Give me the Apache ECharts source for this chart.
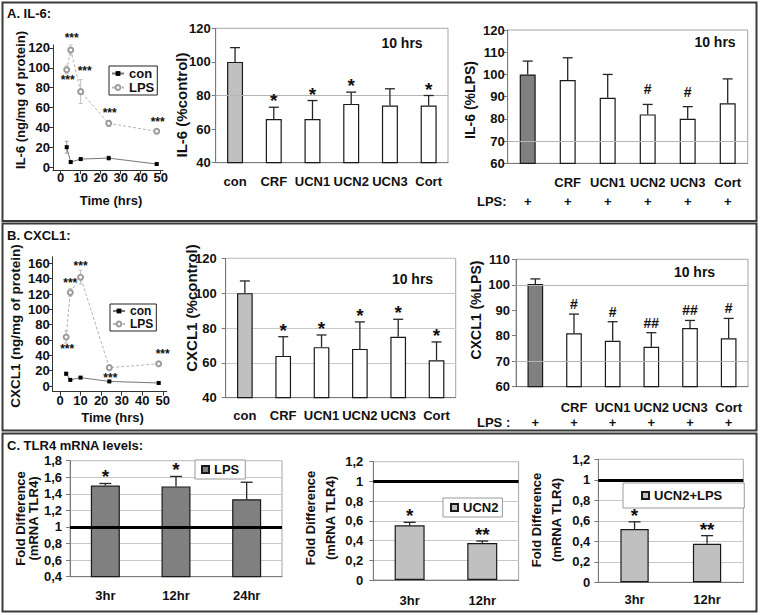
<!DOCTYPE html>
<html>
<head>
<meta charset="utf-8">
<title>IL-6, CXCL1 and TLR4 mRNA</title>
<script src="https://cdn.jsdelivr.net/npm/echarts@6.0.0/dist/echarts.min.js"></script>
<style>
  html, body { margin: 0; padding: 0; background: #fff; }
  #chart { width: 763px; height: 615px; }
</style>
</head>
<body>
<div id="chart"></div>
<script>
const FONT = '"Liberation Sans", Arial, Helvetica, sans-serif';
const INK = '#111';

// A. IL-6 time course (ng/mg of protein)
const il6Hours = [3, 5, 10, 24, 48];
const il6Con = [20, 5, 8, 9, 3];
const il6ConErr = [6, 1, 1, 2, 1];
const il6Lps = [98, 118, 76, 44, 36];
const il6LpsErr = [4, 5, 12, 3, 2];
const il6LpsSig = ['***', '***', '***', '***', '***'];

// A. IL-6 at 10 hrs
const ctrlCats = ['con', 'CRF', 'UCN1', 'UCN2', 'UCN3', 'Cort'];
const lpsCats = ['LPS', 'CRF', 'UCN1', 'UCN2', 'UCN3', 'Cort'];
const il6Ctrl = [100, 66, 66, 75, 74, 74];
const il6CtrlErr = [8.5, 7, 11, 7, 10, 6];
const il6CtrlSig = ['', '*', '*', '*', '', '*'];
const il6PctLps = [100, 97.5, 89.5, 82, 80, 87];
const il6PctLpsErr = [6, 10, 10.5, 4.5, 5.5, 11];
const il6PctLpsSig = ['', '', '', '#', '#', ''];

// B. CXCL1 time course
const cxHours = [3, 5, 10, 24, 48];
const cxCon = [16, 8, 11, 6, 4];
const cxConErr = [2, 1, 1, 1, 1];
const cxLps = [64, 122, 142, 24, 29];
const cxLpsErr = [8, 5, 9, 2, 2];
const cxLpsSig = ['***', '***', '***', '***', '***'];

// B. CXCL1 at 10 hrs
const cxCtrl = [100, 64, 69, 68, 75, 61.5];
const cxCtrlErr = [7, 11, 7, 15.5, 10, 10.5];
const cxCtrlSig = ['', '*', '*', '*', '*', '*'];
const cxPctLps = [100.3, 81, 78, 75.7, 83, 79];
const cxPctLpsErr = [2, 7.5, 7.5, 5.5, 3, 7.8];
const cxPctLpsSig = ['', '#', '#', '##', '##', '#'];

// C. TLR4 mRNA fold difference
const tlrLpsCats = ['3hr', '12hr', '24hr'];
const tlrLps = [1.5, 1.49, 1.335];
const tlrLpsErr = [0.025, 0.12, 0.205];
const tlrLpsSig = ['*', '*', ''];
const tlrCats = ['3hr', '12hr'];
const tlrUcn2 = [0.555, 0.375];
const tlrUcn2Err = [0.03, 0.02];
const tlrUcn2Sig = ['*', '**'];
const tlrUcn2Lps = [0.52, 0.375];
const tlrUcn2LpsErr = [0.07, 0.08];
const tlrUcn2LpsSig = ['*', '**'];

const grids = [], xAxes = [], yAxes = [], series = [], legends = [], graphics = [];

const bold = (size, extra) => Object.assign({ fontFamily: FONT, fontWeight: 'bold', fontSize: size, color: INK }, extra || {});
const comma = v => String(Math.round(v * 10) / 10).replace('.', ',');

function addGrid(r, framed) {
  grids.push({ left: r[0], top: r[1], width: r[2], height: r[3], show: framed,
    borderColor: '#a6a6a6', borderWidth: 1, backgroundColor: 'transparent',
    containLabel: false, outerBoundsMode: 'none' });
  return grids.length - 1;
}

function text(str, x, y, size, opt) {
  opt = opt || {};
  const align = opt.align || 'center';
  graphics.push({
    type: 'text', x: x, y: y, rotation: opt.rot ? Math.PI / 2 : 0, silent: true, z: 10,
    style: { text: str, fill: INK, font: 'bold ' + size + 'px ' + FONT,
      align: align, verticalAlign: 'middle', textAlign: align, textVerticalAlign: 'middle' }
  });
}

function box(x, y, w, h) {
  graphics.push({ type: 'rect', silent: true, z: 0, shape: { x: x, y: y, width: w, height: h },
    style: { fill: 'none', stroke: '#3a3a3a', lineWidth: 2 } });
}

// error bars going up from the bar top, with the significance mark above
function upBars(gi, values, errs, sig, o) {
  return {
    type: 'custom', xAxisIndex: gi, yAxisIndex: gi, z: 5, silent: true,
    encode: { x: 0, y: 1 },
    data: values.map((v, i) => [i, v, errs[i]]),
    renderItem(params, api) {
      const i = params.dataIndex;
      const b = api.coord([api.value(0), api.value(1)]);
      const t = api.coord([api.value(0), api.value(1) + api.value(2)]);
      const ls = { stroke: '#262626', lineWidth: 1.3 };
      const kids = [
        { type: 'line', shape: { x1: b[0], y1: b[1], x2: t[0], y2: t[1] }, style: ls },
        { type: 'line', shape: { x1: t[0] - o.cap, y1: t[1], x2: t[0] + o.cap, y2: t[1] }, style: ls }
      ];
      if (sig[i]) {
        const star = sig[i][0] === '*';
        const size = star ? 19 : 14;
        kids.push({ type: 'text', x: t[0], y: t[1] - (star ? o.starGap : o.hashGap),
          style: { text: sig[i], fill: INK, font: 'bold ' + size + 'px ' + FONT,
            align: 'center', verticalAlign: 'bottom', textAlign: 'center', textVerticalAlign: 'bottom' } });
      }
      return { type: 'group', children: kids };
    }
  };
}

// symmetric light error bars for the time courses
function rangeBars(gi, xs, values, errs, color) {
  return {
    type: 'custom', xAxisIndex: gi, yAxisIndex: gi, z: 3, silent: true,
    encode: { x: 0, y: 1 },
    data: values.map((v, i) => [xs[i], v, errs[i]]),
    renderItem(params, api) {
      const lo = api.coord([api.value(0), api.value(1) - api.value(2)]);
      const hi = api.coord([api.value(0), api.value(1) + api.value(2)]);
      const ls = { stroke: color, lineWidth: 1 };
      return { type: 'group', children: [
        { type: 'line', shape: { x1: lo[0], y1: lo[1], x2: hi[0], y2: hi[1] }, style: ls },
        { type: 'line', shape: { x1: hi[0] - 2, y1: hi[1], x2: hi[0] + 2, y2: hi[1] }, style: ls },
        { type: 'line', shape: { x1: lo[0] - 2, y1: lo[1], x2: lo[0] + 2, y2: lo[1] }, style: ls }
      ] };
    }
  };
}

function lineChart(c) {
  const gi = addGrid(c.rect, false);
  const axisColor = '#333';
  xAxes.push({
    gridIndex: gi, type: 'value', min: c.xMin, max: c.xMax,
    axisLine: { onZero: false, lineStyle: { color: axisColor } },
    axisTick: { show: true, customValues: c.xTicks, length: 4, lineStyle: { color: axisColor } },
    axisLabel: bold(13, { customValues: c.xTicks, margin: c.xMargin }),
    splitLine: { show: false }
  });
  yAxes.push({
    gridIndex: gi, type: 'value', min: c.yMin, max: c.yMax,
    axisLine: { show: true, onZero: false, lineStyle: { color: axisColor } },
    axisTick: { show: true, customValues: c.yTicks, length: 4, lineStyle: { color: axisColor } },
    axisLabel: bold(13, { customValues: c.yTicks, margin: 3 }),
    splitLine: { show: false }
  });
  series.push({
    name: 'con', type: 'line', xAxisIndex: gi, yAxisIndex: gi, z: 4,
    data: c.hours.map((h, i) => [h, c.con[i]]),
    symbol: 'rect', symbolSize: 4, itemStyle: { color: '#000' },
    lineStyle: { color: '#777', width: 1 }
  });
  series.push({
    name: 'LPS', type: 'line', xAxisIndex: gi, yAxisIndex: gi, z: 4,
    data: c.hours.map((h, i) => ({
      value: [h, c.lps[i]],
      label: { show: true, formatter: c.sig[i], position: c.sigPlace[i][0],
        distance: c.sigPlace[i][1], offset: c.sigPlace[i][2] }
    })),
    symbol: 'emptyCircle', symbolSize: 5, itemStyle: { color: '#9a9a9a', borderWidth: 1 },
    lineStyle: { color: '#b5b5b5', width: 1, type: [3, 2] },
    label: bold(12)
  });
  series.push(rangeBars(gi, c.hours, c.con, c.conErr, '#a0a0a0'));
  series.push(rangeBars(gi, c.hours, c.lps, c.lpsErr, '#c0c0c0'));
  legends.push(Object.assign({
    orient: 'vertical', data: ['con', 'LPS'], selectedMode: false,
    itemWidth: 12, itemHeight: 6, itemGap: 1,
    borderColor: '#222', borderWidth: 1, backgroundColor: '#fff'
  }, c.legend));
}

function barChart(c) {
  const gi = addGrid(c.rect, true);
  const axisColor = '#7a7a7a';
  xAxes.push({
    gridIndex: gi, type: 'category', data: c.cats,
    axisLine: { lineStyle: { color: axisColor } },
    axisTick: { length: 4, lineStyle: { color: axisColor } },
    axisLabel: bold(13, { interval: 0, margin: c.xMargin, lineHeight: c.xLine, formatter: c.xFmt })
  });
  yAxes.push({
    gridIndex: gi, type: 'value', min: c.min, max: c.max, interval: c.step,
    axisLine: { show: true, lineStyle: { color: axisColor } },
    axisTick: { show: true, length: 4, lineStyle: { color: axisColor } },
    axisLabel: bold(13, { margin: c.yMargin, formatter: c.yFmt }),
    splitLine: { show: !!c.split, lineStyle: { color: '#c8c8c8' } }
  });
  if (c.gridLines) {
    series.push({
      type: 'line', xAxisIndex: gi, yAxisIndex: gi, data: [], z: 1, silent: true,
      markLine: { symbol: 'none', silent: true, label: { show: false },
        lineStyle: { color: '#b4b4b4', width: 1, type: 'solid' },
        data: c.gridLines.map(v => ({ yAxis: v })) }
    });
  }
  const bar = {
    name: c.name, type: 'bar', xAxisIndex: gi, yAxisIndex: gi, barWidth: c.barWidth, z: 2,
    data: c.values.map((v, i) => ({ value: v, itemStyle: { color: i === 0 && c.firstColor ? c.firstColor : c.color } })),
    itemStyle: { color: c.color, borderColor: '#1a1a1a', borderWidth: 1.2 }
  };
  if (c.unity) {
    bar.markLine = { symbol: 'none', silent: true, label: { show: false },
      lineStyle: { color: '#000', width: 3, type: 'solid' }, data: [{ yAxis: 1 }] };
  }
  series.push(bar);
  series.push(upBars(gi, c.values, c.errs, c.sig, c.err));
  if (c.legend) {
    legends.push(Object.assign({
      data: [c.name], selectedMode: false, icon: 'rect', itemWidth: 7, itemHeight: 7,
      borderColor: '#9a9a9a', borderWidth: 1, backgroundColor: '#fff',
      textStyle: bold(13)
    }, c.legend));
  }
}

const lpsRow = (v, i) => (i === 0 ? ' ' : v) + '\n+';

// ---------- panel A ----------
lineChart({
  rect: [53, 45, 110, 125], xMin: -3.85, xMax: 51.15, yMin: -3, yMax: 123,
  xTicks: [0, 10, 20, 30, 40, 50], yTicks: [0, 20, 40, 60, 80, 100, 120], xMargin: 1,
  hours: il6Hours, con: il6Con, conErr: il6ConErr, lps: il6Lps, lpsErr: il6LpsErr, sig: il6LpsSig,
  sigPlace: [['bottom', 1, [1, 0]], ['top', 2, [1, 0]], ['top', 11, [4, 0]], ['top', 1, [1, 0]], ['top', 0, [1, 0]]],
  legend: { left: 109, top: 66, padding: [1, 3, 1, 2], textStyle: bold(13, { lineHeight: 12 }) }
});
barChart({
  name: 'IL-6 %control', rect: [215.7, 28.3, 232.3, 134.4], cats: ctrlCats,
  values: il6Ctrl, errs: il6CtrlErr, sig: il6CtrlSig,
  min: 40, max: 120, step: 20, barWidth: 16, color: '#fff', firstColor: '#c0c0c0',
  gridLines: [80], xMargin: 12, yMargin: 5,
  err: { cap: 5, starGap: -3, hashGap: 8 }
});
barChart({
  name: 'IL-6 %LPS', rect: [507.7, 30, 240, 133.3], cats: lpsCats,
  values: il6PctLps, errs: il6PctLpsErr, sig: il6PctLpsSig,
  min: 60, max: 120, step: 10, barWidth: 16, color: '#fff', firstColor: '#808080',
  gridLines: [70], xMargin: 10, xLine: 19, xFmt: lpsRow, yMargin: 3,
  err: { cap: 5, starGap: -3, hashGap: 8 }
});

// ---------- panel B ----------
lineChart({
  rect: [52.7, 256.7, 114, 135], xMin: -3.55, xMax: 51.9, yMin: -7.4, yMax: 168.7,
  xTicks: [0, 10, 20, 30, 40, 50], yTicks: [0, 20, 40, 60, 80, 100, 120, 140, 160], xMargin: 2,
  hours: cxHours, con: cxCon, conErr: cxConErr, lps: cxLps, lpsErr: cxLpsErr, sig: cxLpsSig,
  sigPlace: [['bottom', 3, [1, 0]], ['top', 0, [0, 0]], ['top', 2, [0, 0]], ['bottom', 1, [1, 0]], ['top', 0, [4, 0]]],
  legend: { left: 110, top: 304, padding: [1, 3, 1, 2], textStyle: bold(12, { lineHeight: 11 }) }
});
barChart({
  name: 'CXCL1 %control', rect: [225.7, 258.3, 230, 139.4], cats: ctrlCats,
  values: cxCtrl, errs: cxCtrlErr, sig: cxCtrlSig,
  min: 40, max: 120, step: 20, barWidth: 15.7, color: '#fff', firstColor: '#c0c0c0',
  split: true, xMargin: 11, yMargin: 9,
  err: { cap: 5, starGap: -3, hashGap: 8 }
});
barChart({
  name: 'CXCL1 %LPS', rect: [516, 259.3, 232, 127.4], cats: lpsCats,
  values: cxPctLps, errs: cxPctLpsErr, sig: cxPctLpsSig,
  min: 60, max: 110, step: 10, barWidth: 15.7, color: '#fff', firstColor: '#808080',
  gridLines: [70, 100], xMargin: 13, xLine: 15, xFmt: lpsRow, yMargin: 6,
  err: { cap: 5, starGap: -3, hashGap: 3 }
});

// ---------- panel C ----------
barChart({
  name: 'TLR4 LPS', rect: [70, 460.7, 212, 116], cats: tlrLpsCats,
  values: tlrLps, errs: tlrLpsErr, sig: tlrLpsSig,
  min: 0.4, max: 1.8, step: 0.2, barWidth: 29, color: '#808080',
  split: true, unity: true, xMargin: 12, yMargin: 8, yFmt: comma,
  err: { cap: 6, starGap: -3, hashGap: 3 },
  legend: { left: 195, top: 460, padding: [3, 6, 3, 6], formatter: () => 'LPS' }
});
barChart({
  name: 'UCN2', rect: [373.3, 461.7, 145.3, 118.3], cats: tlrCats,
  values: tlrUcn2, errs: tlrUcn2Err, sig: tlrUcn2Sig,
  min: 0, max: 1.2, step: 0.2, barWidth: 30, color: '#c0c0c0',
  split: true, unity: true, xMargin: 13.5, yMargin: 10, yFmt: comma,
  err: { cap: 6, starGap: -3, hashGap: 3 },
  legend: { left: 443, top: 498, padding: [3, 4, 3, 7] }
});
barChart({
  name: 'UCN2+LPS', rect: [598.3, 459.3, 145, 123], cats: tlrCats,
  values: tlrUcn2Lps, errs: tlrUcn2LpsErr, sig: tlrUcn2LpsSig,
  min: 0, max: 1.2, step: 0.2, barWidth: 28.3, color: '#c0c0c0',
  split: true, unity: true, xMargin: 11, yMargin: 8, yFmt: comma,
  err: { cap: 6, starGap: -3, hashGap: 3 },
  legend: { left: 623, top: 483, padding: [6, 22, 6, 18] }
});

// panel frames and free text
box(2.5, 2.5, 754, 218.5);
box(2.5, 223.5, 754, 207);
box(2.5, 433.5, 754, 178);

text('A. IL-6:', 7, 13, 13, { align: 'left' });
text('B. CXCL1:', 7, 235, 13, { align: 'left' });
text('C. TLR4 mRNA levels:', 7, 445, 13, { align: 'left' });

text('IL-6 (ng/mg of protein)', 20.7, 100, 13, { rot: true });
text('Time (hrs)', 111, 200, 13);
text('IL-6 (%control)', 181.7, 105, 15, { rot: true });
text('10 hrs', 402, 43, 14);
text('IL-6 (%LPS)', 470, 100, 14, { rot: true });
text('10 hrs', 715, 41.7, 14);
text('LPS:', 477, 201.7, 13, { align: 'left' });

text('CXCL1 (ng/mg of protein)', 15, 326, 13.5, { rot: true });
text('Time (hrs)', 112.5, 417, 13);
text('CXCL1 (%control)', 191.7, 308, 15, { rot: true });
text('10 hrs', 412.5, 279, 14);
text('CXCL1 (%LPS)', 476, 310, 14, { rot: true });
text('10 hrs', 694.5, 271.7, 14);
text('LPS :', 477, 422, 13, { align: 'left' });

text('Fold Difference', 20, 518.5, 13, { rot: true });
text('(mRNA TLR4)', 33.3, 518.5, 13, { rot: true });
text('Fold Difference', 310, 518, 13, { rot: true });
text('(mRNA TLR4)', 330, 518, 13, { rot: true });
text('Fold Difference', 536.7, 520, 13, { rot: true });
text('(mRNA TLR4)', 556.7, 520, 13, { rot: true });

const chart = echarts.init(document.getElementById('chart'), null, { renderer: 'svg' });
chart.setOption({
  animation: false,
  backgroundColor: '#fff',
  textStyle: { fontFamily: FONT },
  grid: grids,
  xAxis: xAxes,
  yAxis: yAxes,
  legend: legends,
  graphic: graphics,
  series: series
});
</script>
</body>
</html>
